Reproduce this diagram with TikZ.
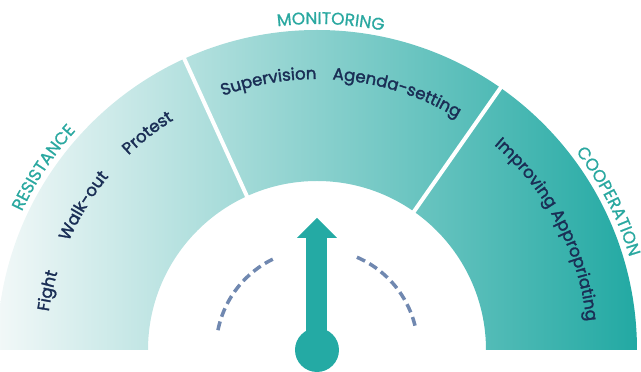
\documentclass[tikz,border=0pt]{standalone}
\usepackage{fontspec}
\setmainfont{Poppins}
\newfontfamily\poppinsheavy[FakeBold=1.8]{Poppins}
\newfontfamily\poppinsmid[FakeBold=0.9]{Poppins}
\usetikzlibrary{decorations.text}

\definecolor{gaugeleft}{HTML}{F2F8F8}
\definecolor{gaugeright}{HTML}{22A9A3}
\definecolor{headteal}{HTML}{2AA8A0}
\definecolor{labelnavy}{HTML}{1A2E55}
\definecolor{needleteal}{HTML}{24AAA4}
\definecolor{dialblue}{HTML}{7088B0}

\newcommand{\labelfont}{\poppinsheavy\fontsize{16.6}{20}\selectfont\color{labelnavy}}
\newcommand{\headfont}{\poppinsmid\fontsize{17}{20}\selectfont\color{headteal}}

\begin{document}
\begin{tikzpicture}
		[x=1pt, y=1pt,
		divider/.style={draw=white, line width=4pt},
		dialarc/.style={draw=dialblue, line width=3.5pt, dash pattern=on 9pt off 5pt},
		curvetext/.style={decorate, decoration={text along path, text align=center, text={#1}}}]
		\useasboundingbox (-317,-22) rectangle (324,350);

		% gauge band
		\shade[left color=gaugeleft, right color=gaugeright]
			(-320,0) arc[start angle=180, end angle=0, radius=320]
			-- (169,0) arc[start angle=0, end angle=180, radius=169] -- cycle;
		\draw[divider] (114.5:166) -- (114.5:323);
		\draw[divider] (55:166) -- (55:323);

		% headers
		\path[curvetext={|\headfont|RESISTANCE}] (196.3:326) arc[start angle=196.3, end angle=96.3, radius=326];
		\path[curvetext={|\headfont|MONITORING}] (137.6:326) arc[start angle=137.6, end angle=37.6, radius=326];
		\path[curvetext={|\headfont|COOPERATION}] (77:326) arc[start angle=77, end angle=-23, radius=326];

		% labels
		\path[curvetext={|\labelfont|Fight}] (207.6:271) arc[start angle=207.6, end angle=127.6, radius=271];
		\path[curvetext={|\labelfont|Walk-out}] (188.3:271) arc[start angle=188.3, end angle=108.3, radius=271];
		\path[curvetext={|\labelfont|Protest}] (168:271) arc[start angle=168, end angle=88, radius=271];
		\path[curvetext={|\labelfont|Supervision}] (140.2:271) arc[start angle=140.2, end angle=60.2, radius=271];
		\path[curvetext={|\labelfont|Agenda-setting}] (112.8:271) arc[start angle=112.8, end angle=32.8, radius=271];
		\path[curvetext={|\labelfont|Improving Appropriating}] (77.6:271) arc[start angle=77.6, end angle=-22.4, radius=271];

		% dial
		\draw[dialarc] (168.7:101) arc[start angle=168.7, end angle=113.3, radius=101];
		\draw[dialarc] (66.7:101) arc[start angle=66.7, end angle=11.3, radius=101];

		% needle
		\fill[needleteal] (0,0) circle[radius=22];
		\fill[needleteal] (-10.5,0) rectangle (10.5,112);
		\fill[needleteal] (-20,112) -- (20,112) -- (0,132) -- cycle;
	\end{tikzpicture}
\end{document}
